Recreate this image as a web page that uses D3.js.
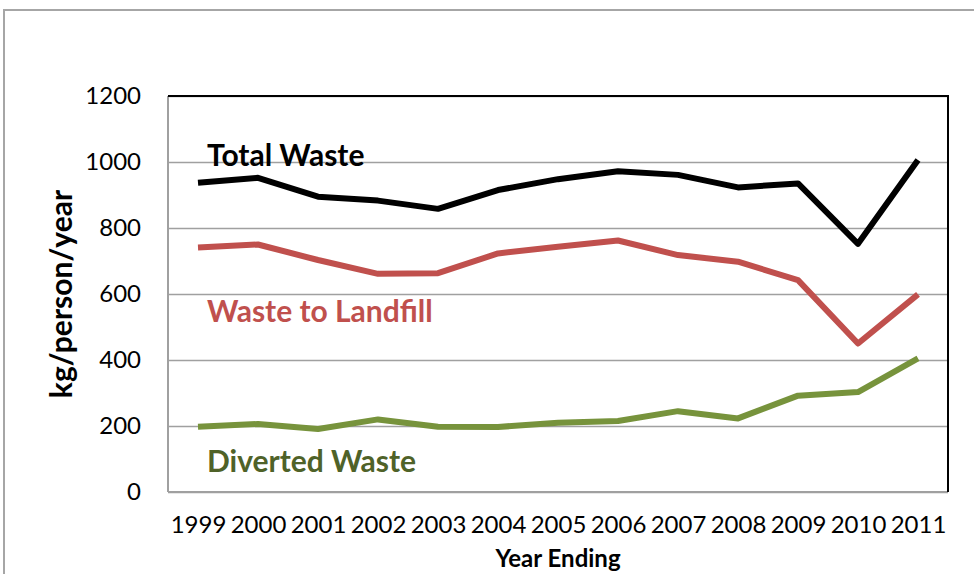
<!DOCTYPE html>
<html>
<head>
<meta charset="utf-8">
<script src="https://cdn.jsdelivr.net/npm/d3@7"></script>
<style>
  body { margin: 0; background: #fff; }
  text { font-family: Lato, "Open Sans", sans-serif; }
</style>
</head>
<body>
<svg id="chart" width="974" height="574"></svg>
<script>
let years = ["1999", "2000", "2001", "2002", "2003", "2004", "2005",
             "2006", "2007", "2008", "2009", "2010", "2011"];
let totalWaste    = [937, 952, 895, 883, 858, 915, 948, 972, 961, 923, 935, 752, 1006];
let landfillWaste = [741, 750, 703, 661, 663, 723, 743, 762, 718, 698, 642, 450, 599];
let divertedWaste = [198, 206, 191, 220, 198, 197, 210, 215, 245, 223, 292, 303, 405];
let yTicks = [0, 200, 400, 600, 800, 1000, 1200];

// chart frame
let margin = {top: 96, right: 26, bottom: 82, left: 168};
let width = 974 - margin.left - margin.right;
let height = 574 - margin.top - margin.bottom;

let svg = d3.select("#chart");

// outer chart-area border (only top and left visible)
svg.append("path")
  .attr("d", "M4,574V10H974")
  .attr("fill", "none")
  .attr("stroke", "#a6a6a6")
  .attr("stroke-width", 2);

let g = svg.append("g")
  .attr("transform", "translate(" + margin.left + "," + margin.top + ")");

let x = d3.scalePoint()
  .domain(years)
  .range([0, width])
  .padding(0.5);

let y = d3.scaleLinear()
  .domain([0, 1200])
  .range([height, 0]);

// y axis with gridlines
let yAxis = g.append("g")
  .call(d3.axisLeft(y).tickValues(yTicks).tickFormat(d3.format("d"))
        .tickSize(-width).tickPadding(27));
yAxis.select(".domain").remove();
yAxis.selectAll(".tick line")
  .attr("stroke", "#a0a0a0")
  .attr("stroke-width", 1.6);
yAxis.selectAll(".tick text")
  .attr("fill", "#000")
  .style("font-size", "24px")
  .style("font-family", "Lato, sans-serif");

// plot border: left/bottom gray, top/right black
g.append("line")
  .attr("x1", 0).attr("x2", 0).attr("y1", 0).attr("y2", height)
  .attr("stroke", "#a0a0a0").attr("stroke-width", 2);
g.append("line")
  .attr("x1", 0).attr("x2", width).attr("y1", height).attr("y2", height)
  .attr("stroke", "#a0a0a0").attr("stroke-width", 2);
g.append("path")
  .attr("d", "M0,0H" + width + "V" + height)
  .attr("fill", "none")
  .attr("stroke", "#000")
  .attr("stroke-width", 2);

// x axis labels
let xAxis = g.append("g")
  .attr("transform", "translate(0," + height + ")")
  .call(d3.axisBottom(x).tickSize(0).tickPadding(24));
xAxis.select(".domain").remove();
xAxis.selectAll(".tick text")
  .attr("fill", "#000")
  .style("font-size", "24px")
  .style("font-family", "Lato, sans-serif");

// series
let series = [
  {name: "Total Waste", values: totalWaste, color: "#000000", labelColor: "#000000", labelY: 166},
  {name: "Waste to Landfill", values: landfillWaste, color: "#c0504d", labelColor: "#c0504d", labelY: 322},
  {name: "Diverted Waste", values: divertedWaste, color: "#77933c", labelColor: "#4f6228", labelY: 472}
];

let line = d3.line()
  .x(function(d, i) { return x(years[i]); })
  .y(function(d) { return y(d); });

series.forEach(function(s) {
  g.append("path")
    .datum(s.values)
    .attr("d", line)
    .attr("fill", "none")
    .attr("stroke", s.color)
    .attr("stroke-width", 6)
    .attr("stroke-linejoin", "round");
});

series.forEach(function(s) {
  svg.append("text")
    .attr("x", 207)
    .attr("y", s.labelY)
    .attr("fill", s.labelColor)
    .style("font-size", "30px")
    .style("font-weight", "bold")
    .text(s.name);
});

// axis titles
svg.append("text")
  .attr("transform", "translate(72," + (margin.top + height / 2) + ") rotate(-90)")
  .attr("text-anchor", "middle")
  .style("font-size", "30px")
  .style("font-weight", "bold")
  .text("kg/person/year");

svg.append("text")
  .attr("x", margin.left + width / 2)
  .attr("y", 567)
  .attr("text-anchor", "middle")
  .style("font-size", "24px")
  .style("font-weight", "bold")
  .text("Year Ending");
</script>
</body>
</html>
